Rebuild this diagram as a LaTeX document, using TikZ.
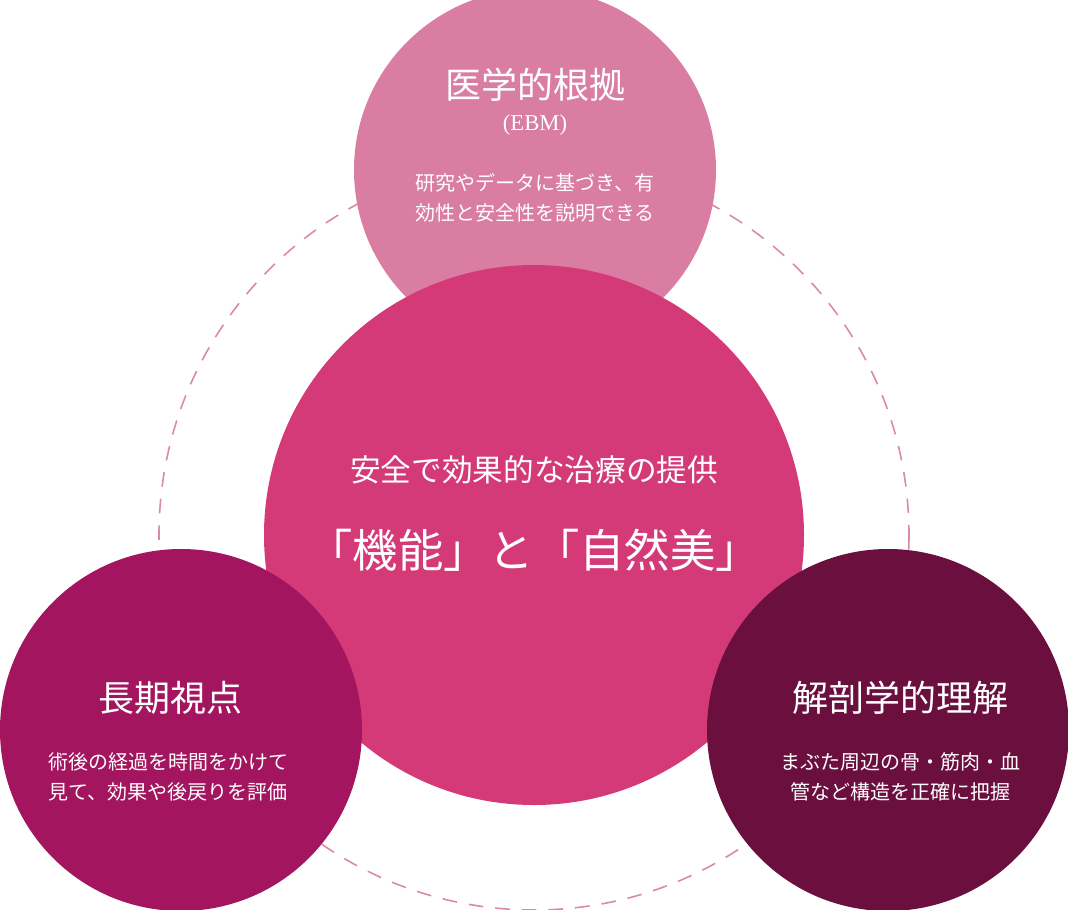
\documentclass[tikz,border=0pt]{standalone}
\usepackage{fontspec}
\setmainfont{Noto Sans CJK JP}
\newfontfamily\ebmfont{Liberation Serif}
\definecolor{topc}{HTML}{D97DA3}
\definecolor{midc}{HTML}{D43A78}
\definecolor{leftc}{HTML}{A3155E}
\definecolor{rightc}{HTML}{6B0F3E}
\definecolor{dashc}{HTML}{D98AA8}
\begin{document}
\begin{tikzpicture}[x=0.75pt,y=-0.75pt,
  blob/.style={circle, inner sep=0pt, minimum size=#1*0.75pt},
  title/.style={text=white, font=\fontsize{27}{30}\selectfont},
  note/.style={text=white, font=\fontsize{15}{23}\selectfont, align=center}]
\useasboundingbox (0,0) rectangle (1068,910);
\draw[dashc, line width=1.2pt, dash pattern=on 11pt off 9pt] (534,535) circle [radius=375];
% outer circles
\node[blob=362, fill=topc] (ebm) at (535,170) {};
\node[blob=540, fill=midc] (core) at (534,535) {};
\node[blob=362, fill=leftc] (longterm) at (181,730) {};
\node[blob=362, fill=rightc] (anatomy) at (888,730) {};
% texts
\node[title] (ebmt) at (535,85) {医学的根拠};
\node[text=white, font=\ebmfont\fontsize{17}{20}\selectfont] (ebms) at (535,125) {(EBM)};
\node[note] (ebmn) at (535,198) {研究やデータに基づき、有\\効性と安全性を説明できる};
\node[text=white, font=\fontsize{23}{26}\selectfont] (coret) at (534,470) {安全で効果的な治療の提供};
\node[text=white, font=\fontsize{34}{38}\selectfont] (cores) at (534,550) {「機能」と「自然美」};
\node[title] (longt) at (170,698) {長期視点};
\node[note] (longn) at (168,777) {術後の経過を時間をかけて\\見て、効果や後戻りを評価};
\node[title] (anat) at (900,698) {解剖学的理解};
\node[note] (anan) at (900,777) {まぶた周辺の骨・筋肉・血\\管など構造を正確に把握};
\end{tikzpicture}
\end{document}
